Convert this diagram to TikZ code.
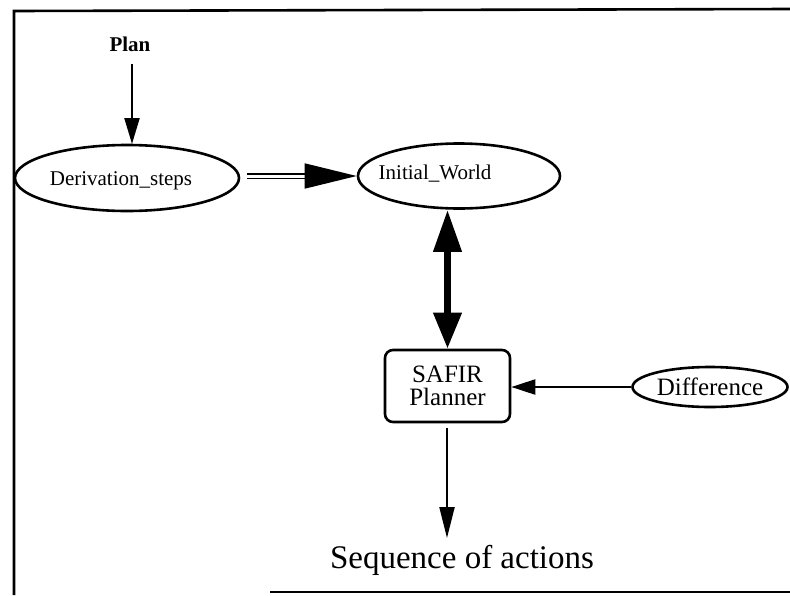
\documentclass[tikz,border=0pt]{standalone}
\usepackage{fontspec}
\setmainfont{Liberation Serif}
\usetikzlibrary{shapes.geometric,arrows.meta}
\begin{document}
\begin{tikzpicture}[x=1pt,y=-1pt,
  oval/.style={draw,ellipse,line width=2.6pt,inner sep=0pt},
  lbl/.style={inner sep=0pt,font=\fontsize{21}{24}\selectfont},
  conn/.style={line width=2.2pt,-{Triangle[length=26pt,width=15pt]}},
  frameline/.style={line width=2.6pt}]
\useasboundingbox (0,0) rectangle (790,595);
% frame
\draw[frameline] (14,595) -- (14,11) -- (790,9);
\draw[frameline] (270,592) -- (790,592);
% nodes
\node[inner sep=0pt,font=\fontsize{21}{24}\selectfont\bfseries] (plan) at (130,44) {Plan};
\node[oval,minimum width=224pt,minimum height=66pt] (deriv) at (127,178) {};
\node[lbl] (derivt) at (121,181) {Derivation\_steps};
\node[oval,minimum width=202pt,minimum height=65pt] (world) at (459,176) {};
\node[lbl] (worldt) at (435,174) {Initial\_World};
\node[draw,line width=2.6pt,rounded corners=8pt,minimum width=125pt,minimum height=72pt,
      inner sep=0pt,align=center,font=\fontsize{25}{23}\selectfont] (safir) at (447.5,386) {SAFIR\\Planner};
\node[oval,minimum width=155pt,minimum height=40pt,font=\fontsize{25}{28}\selectfont] (diff) at (710,387) {Difference};
\node[inner sep=0pt,font=\fontsize{33}{38}\selectfont] (seq) at (462,560) {Sequence of actions};
% connectors
\draw[conn] (132,64) -- (132,144);
\coordinate (dstart) at (247,176);
\draw[line width=1.6pt,double distance=3pt,-{Triangle[length=52pt,width=25pt,open,fill=black]}]
  (dstart) -- (world.west);
\draw[line width=7pt,{Triangle[length=42pt,width=27pt]}-{Triangle[length=36pt,width=27pt]}]
  (world.south -| safir.north) -- (safir.north);
\draw[conn,-{Triangle[length=24pt,width=15pt]}] (diff.west) -- (safir.east |- diff.west);
\draw[conn,-{Triangle[length=31pt,width=15pt]}] (447,428) -- (447,538);
\end{tikzpicture}
\end{document}
